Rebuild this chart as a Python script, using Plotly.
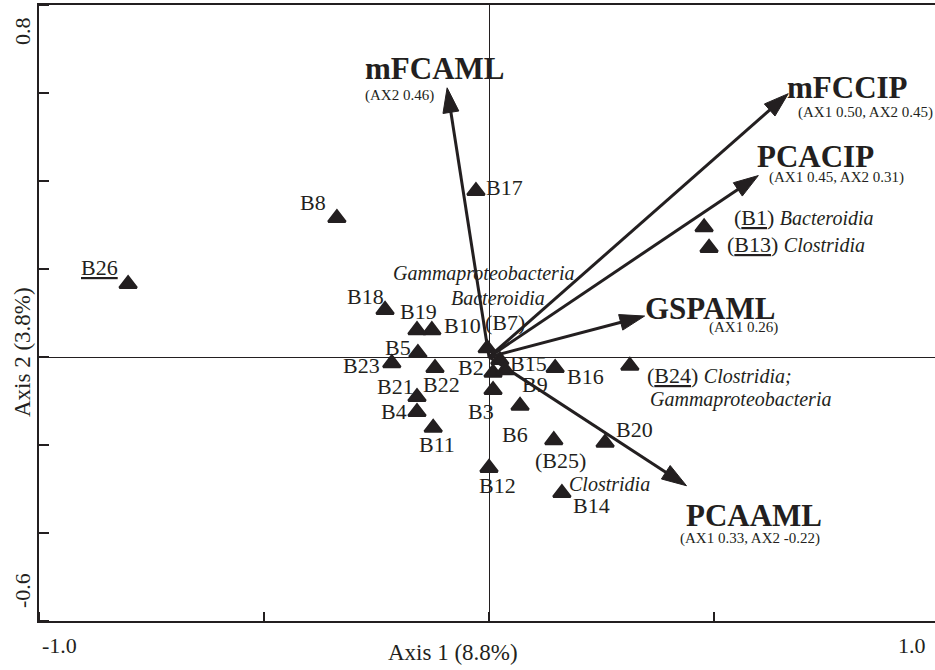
import plotly.graph_objects as go

# ---- site scores on the first two ordination axes ----
sites = ["B1", "B2", "B3", "B4", "B5", "B6", "B7", "B8", "B9", "B10", "B11", "B12", "B13",
         "B14", "B15", "B16", "B17", "B18", "B19", "B20", "B21", "B22", "B23", "B24", "B25", "B26"]
axis1_scores = [0.478, 0.009, 0.009, -0.160, -0.158, 0.069, -0.004, -0.338, 0.024, -0.127, -0.124, 0.000, 0.489,
                0.162, 0.036, 0.147, -0.029, -0.231, -0.160, 0.258, -0.160, -0.120, -0.216, 0.313, 0.144, -0.802]
axis2_scores = [0.295, -0.036, -0.075, -0.125, 0.009, -0.111, 0.020, 0.316, -0.007, 0.061, -0.161, -0.252, 0.248,
                -0.309, -0.030, -0.025, 0.377, 0.107, 0.061, -0.195, -0.091, -0.025, -0.014, -0.020, -0.189, 0.166]

# ---- environmental variable loadings (biplot arrows) ----
variables = ["mFCAML", "mFCCIP", "PCACIP", "GSPAML", "PCAAML"]
variable_ax1 = [-0.07, 0.50, 0.45, 0.26, 0.33]
variable_ax2 = [0.46, 0.45, 0.31, 0.07, -0.22]
variable_axes_shown = [["AX2"], ["AX1", "AX2"], ["AX1", "AX2"], ["AX1"], ["AX1", "AX2"]]
ARROW_SCALE = 1.33

# ---- axes ----
x_ticks = [-1.0, -0.5, 0.0, 0.5, 1.0]
y_ticks = [-0.6, -0.4, -0.2, 0.0, 0.2, 0.4, 0.6, 0.8]
x_title = "Axis 1 (8.8%)"
y_title = "Axis 2 (3.8%)"

INK = "#231f20"
FONT = "Liberation Serif"

# label text, anchor, pixel offset from the site marker
site_labels = {
    "B1": ("(<u>B1</u>) <span style='font-size:20px'><i>Bacteroidia</i></span>", "left", 28, 10),
    "B2": ("B2", "center", -22, 5),
    "B3": ("B3", "center", -12, -21),
    "B4": ("B4", "center", -23, 1),
    "B5": ("B5", "center", -20, 6),
    "B6": ("B6", "center", -5, -29),
    "B7": ("(B7)", "center", 18, 26),
    "B8": ("B8", "center", -24, 15),
    "B9": ("B9", "center", 35, -24),
    "B10": ("B10", "center", 31, 5),
    "B11": ("B11", "center", 4, -17),
    "B12": ("B12", "center", 8, -18),
    "B13": ("(<u>B13</u>) <span style='font-size:20px'><i>Clostridia</i></span>", "left", 16, 3),
    "B14": ("B14", "center", 30, -13),
    "B15": ("B15", "center", 23, 7),
    "B16": ("B16", "center", 30, -8),
    "B17": ("B17", "center", 29, 4),
    "B18": ("B18", "center", -20, 13),
    "B19": ("B19", "center", 1, 19),
    "B20": ("B20", "center", 29, 13),
    "B21": ("B21", "center", -22, 11),
    "B22": ("B22", "center", 6, -16),
    "B23": ("B23", "center", -30, -2),
    "B24": ("(<u>B24</u>) <span style='font-size:20px'><i>Clostridia;</i></span>", "left", 15, -10),
    "B25": ("(B25)", "center", 7, -20),
    "B26": ("<u>B26</u>", "center", -29, 16),
}
# additional taxon notes attached to sites
site_notes = [
    ("B7", "<i>Gammaproteobacteria</i>", "center", -4, 75),
    ("B7", "<i>Bacteroidia</i>", "center", 11, 50),
    ("B14", "<i>Clostridia</i>", "center", 48, 9),
    ("B24", "<i>Gammaproteobacteria</i>", "left", 18, -34),
]
# arrow label offsets from the arrow tip: (name dx, dy), (values dx, dy)
arrow_label_offsets = {
    "mFCAML": ((-84, 19), (-84, -8)),
    "mFCCIP": ((-3, 6), (8, -19)),
    "PCACIP": ((-3, 19), (9, -2)),
    "GSPAML": ((-2, 8), (62, -11)),
    "PCAAML": ((-3, -30), (-9, -53)),
}

fig = go.Figure()

# environmental arrows from the origin
for name, a1, a2 in zip(variables, variable_ax1, variable_ax2):
    fig.add_trace(go.Scatter(
        x=[0, a1 * ARROW_SCALE], y=[0, a2 * ARROW_SCALE],
        mode="lines+markers",
        line=dict(color=INK, width=3),
        marker=dict(symbol="arrow", size=[0, 26], angleref="previous", color=INK, opacity=1,
                    line=dict(color=INK, width=1)),
        hoverinfo="skip", showlegend=False,
    ))

# site triangles
fig.add_trace(go.Scatter(
    x=axis1_scores, y=axis2_scores, mode="markers", text=sites,
    marker=dict(symbol="triangle-up", size=15, color=INK, opacity=1, line=dict(color=INK, width=2.5)),
    showlegend=False,
))

annotations = []
text_font = dict(family=FONT, size=22, color=INK)

for s, xv, yv in zip(sites, axis1_scores, axis2_scores):
    txt, anchor, dx, dy = site_labels[s]
    annotations.append(dict(x=xv, y=yv, xref="x", yref="y", text=txt, showarrow=False,
                            xanchor=anchor, yanchor="middle", xshift=dx, yshift=dy, font=text_font))

for s, txt, anchor, dx, dy in site_notes:
    i = sites.index(s)
    annotations.append(dict(x=axis1_scores[i], y=axis2_scores[i], xref="x", yref="y", text=txt,
                            showarrow=False, xanchor=anchor, yanchor="middle", xshift=dx, yshift=dy,
                            font=dict(family=FONT, size=20, color=INK)))

for name, a1, a2, shown in zip(variables, variable_ax1, variable_ax2, variable_axes_shown):
    tx, ty = a1 * ARROW_SCALE, a2 * ARROW_SCALE
    vals = {"AX1": a1, "AX2": a2}
    sub = "(" + ", ".join(f"{k} {vals[k]:.2f}" for k in shown) + ")"
    (ndx, ndy), (vdx, vdy) = arrow_label_offsets[name]
    annotations.append(dict(x=tx, y=ty, xref="x", yref="y", text=f"<b>{name}</b>", showarrow=False,
                            xanchor="left", yanchor="middle", xshift=ndx, yshift=ndy,
                            font=dict(family=FONT, size=31, color=INK)))
    annotations.append(dict(x=tx, y=ty, xref="x", yref="y", text=sub, showarrow=False,
                            xanchor="left", yanchor="middle", xshift=vdx, yshift=vdy,
                            font=dict(family=FONT, size=15, color=INK)))

# end tick labels and axis titles
annotations += [
    dict(x=x_ticks[0], y=y_ticks[0], xref="x", yref="y", text=f"{x_ticks[0]:.1f}", showarrow=False,
         xanchor="left", yanchor="middle", xshift=1, yshift=-24, font=text_font),
    dict(x=1, y=y_ticks[0], xref="paper", yref="y", text=f"{x_ticks[-1]:.1f}", showarrow=False,
         xanchor="right", yanchor="middle", xshift=-7, yshift=-24, font=text_font),
    dict(x=0, y=y_ticks[-1], xref="paper", yref="y", text=f"{y_ticks[-1]:.1f}", showarrow=False,
         textangle=-90, xanchor="center", yanchor="middle", xshift=-17, yshift=-26, font=text_font),
    dict(x=0, y=y_ticks[0], xref="paper", yref="y", text=f"{y_ticks[0]:.1f}", showarrow=False,
         textangle=-90, xanchor="center", yanchor="middle", xshift=-17, yshift=30, font=text_font),
    dict(x=0, y=y_ticks[0], xref="x", yref="y", text=x_title, showarrow=False,
         xanchor="center", yanchor="middle", xshift=-36, yshift=-31,
         font=dict(family=FONT, size=23, color=INK)),
    dict(x=0, y=0, xref="paper", yref="y", text=y_title, showarrow=False, textangle=-90,
         xanchor="center", yanchor="middle", xshift=-17, yshift=5,
         font=dict(family=FONT, size=23, color=INK)),
]

# tick marks crossing the axis lines
shapes = []
for xt in x_ticks:
    shapes.append(dict(type="line", xref="x", x0=xt, x1=xt, yref="y", ysizemode="pixel",
                       yanchor=y_ticks[0], y0=-5, y1=9, line=dict(color=INK, width=2)))
for yt in y_ticks:
    shapes.append(dict(type="line", yref="y", y0=yt, y1=yt, xref="x", xsizemode="pixel",
                       xanchor=x_ticks[0], x0=-4, x1=10, line=dict(color=INK, width=2)))

W, H = 935, 670
L, R, T, B = 39, 0, 5, 49
px_per_unit_x = 450.0
x_max = x_ticks[0] + (W - L - R) / px_per_unit_x

fig.update_layout(
    width=W, height=H,
    margin=dict(l=L, r=R, t=T, b=B),
    paper_bgcolor="white", plot_bgcolor="white",
    showlegend=False,
    annotations=annotations,
    shapes=shapes,
    font=dict(family=FONT, color=INK),
    xaxis=dict(range=[x_ticks[0], x_max], showgrid=False, showticklabels=False, ticks="",
               showline=True, mirror=True, linecolor=INK, linewidth=2,
               zeroline=True, zerolinecolor=INK, zerolinewidth=1, fixedrange=True),
    yaxis=dict(range=[y_ticks[0], y_ticks[-1]], showgrid=False, showticklabels=False, ticks="",
               showline=True, mirror=False, linecolor=INK, linewidth=2,
               zeroline=True, zerolinecolor=INK, zerolinewidth=1, fixedrange=True),
)

fig.write_html("out.html")
